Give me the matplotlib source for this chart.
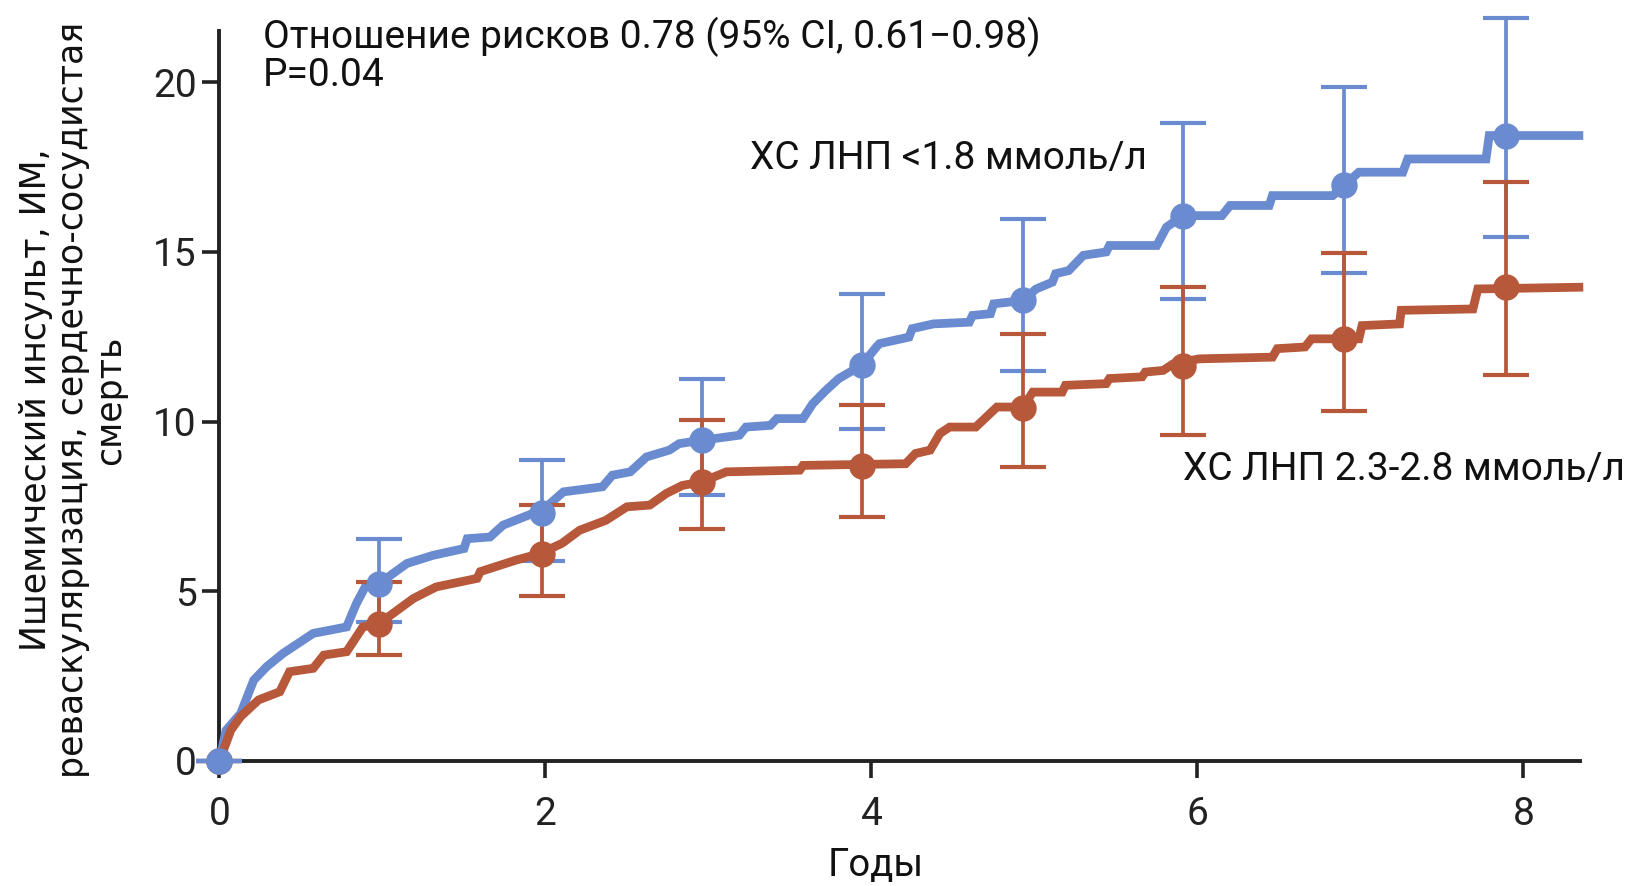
"""
Cumulative incidence of ischemic stroke / MI / revascularisation / CV death
by achieved LDL-C group, with yearly 95% CI markers.
"""

import matplotlib
matplotlib.use("Agg")
import matplotlib.pyplot as plt

# ── Data ─────────────────────────────────────────────────────────────────────
# step curves, years vs %
BLUE_T = [0, 0.04, 0.13, 0.21, 0.29, 0.39, 0.575, 0.78, 0.84, 0.9, 0.98, 1.15,
          1.31, 1.5, 1.52, 1.66, 1.74, 1.92, 1.985, 2.03, 2.11, 2.35, 2.41,
          2.52, 2.62, 2.76, 2.82, 2.956, 3.19, 3.23, 3.38, 3.42, 3.58, 3.64,
          3.72, 3.8, 3.94, 4.03, 4.05, 4.23, 4.25, 4.38, 4.6, 4.62, 4.73, 4.75,
          4.93, 5.01, 5.11, 5.13, 5.21, 5.3, 5.44, 5.46, 5.75, 5.81, 5.91,
          6.15, 6.2, 6.44, 6.46, 6.83, 6.9, 6.99, 7.26, 7.29, 7.77, 7.79,
          7.89, 8.34]
BLUE_Y = [0, 0.9, 1.4, 2.38, 2.78, 3.17, 3.76, 3.95, 4.64, 5.18, 5.23, 5.82,
          6.06, 6.26, 6.55, 6.6, 6.95, 7.29, 7.34, 7.59, 7.93, 8.08, 8.42,
          8.52, 8.96, 9.16, 9.35, 9.45, 9.6, 9.84, 9.89, 10.09, 10.09, 10.53,
          10.92, 11.27, 11.66, 12.2, 12.3, 12.49, 12.74, 12.88, 12.93, 13.13,
          13.18, 13.47, 13.57, 13.91, 14.11, 14.36, 14.45, 14.9, 15.0, 15.19,
          15.19, 15.73, 16.07, 16.07, 16.37, 16.37, 16.66, 16.66, 16.96,
          17.35, 17.35, 17.74, 17.74, 18.43, 18.43, 18.43]

RED_T = [0, 0.07, 0.13, 0.24, 0.37, 0.43, 0.575, 0.64, 0.78, 0.88, 0.98,
         1.19, 1.33, 1.58, 1.6, 1.82, 1.965, 2.1, 2.21, 2.37, 2.5, 2.64, 2.74,
         2.84, 2.956, 3.11, 3.56, 3.58, 4.21, 4.27, 4.36, 4.42, 4.48, 4.64,
         4.77, 4.93, 4.99, 5.17, 5.19, 5.44, 5.46, 5.66, 5.68, 5.79, 5.85,
         6.01, 6.46, 6.49, 6.66, 6.7, 6.99, 7.01, 7.24, 7.25, 7.69, 7.72, 8.34]
RED_Y = [0, 0.91, 1.31, 1.8, 2.04, 2.63, 2.73, 3.12, 3.22, 3.95, 4.05, 4.79,
         5.13, 5.38, 5.58, 5.92, 6.11, 6.41, 6.8, 7.09, 7.49, 7.54, 7.88,
         8.12, 8.22, 8.52, 8.57, 8.71, 8.76, 9.06, 9.16, 9.65, 9.84, 9.84,
         10.43, 10.43, 10.87, 10.87, 11.07, 11.12, 11.27, 11.32, 11.46, 11.51,
         11.7, 11.85, 11.9, 12.15, 12.2, 12.44, 12.44, 12.83, 12.88, 13.28,
         13.32, 13.91, 13.96]

# yearly estimates with 95% CI
YEAR_X   = [0, 0.98, 1.98, 2.96, 3.94, 4.93, 5.91, 6.9, 7.89]
BLUE_PT  = [0, 5.23, 7.3, 9.45, 11.66, 13.57, 16.07, 16.96, 18.43]
BLUE_LO  = [0, 4.1, 5.9, 7.85, 9.78, 11.5, 13.6, 14.37, 15.45]
BLUE_HI  = [0, 6.55, 8.86, 11.26, 13.75, 15.97, 18.8, 19.85, 21.88]
RED_PT   = [0, 4.05, 6.11, 8.22, 8.7, 10.4, 11.63, 12.44, 13.96]
RED_LO   = [0, 3.12, 4.86, 6.83, 7.2, 8.67, 9.62, 10.3, 11.36]
RED_HI   = [0, 5.28, 7.54, 10.06, 10.5, 12.57, 13.96, 14.97, 17.05]

X_TICKS = [0, 2, 4, 6, 8]
Y_TICKS = [0, 5, 10, 15, 20]

LABEL_BLUE = "ХС ЛНП <1.8 ммоль/л"
LABEL_RED  = "ХС ЛНП 2.3-2.8 ммоль/л"
HR_TEXT    = "Отношение рисков 0.78 (95% CI, 0.61\u22120.98)\nP=0.04"
Y_LABEL    = "Ишемический инсульт, ИМ,\nреваскуляризация, сердечно-сосудистая\nсмерть"
X_LABEL    = "Годы"

BLUE = "#6A8BCF"
RED  = "#B7583A"
INK  = "#222222"

plt.rcParams["font.family"] = ["Roboto", "DejaVu Sans"]


def yerr_of(pt, lo, hi):
    return [[p - l for p, l in zip(pt, lo)], [h - p for p, h in zip(pt, hi)]]


def draw_group(ax, t, y, px, pt, lo, hi, color, zorder=2):
    ax.plot(t, y, color=color, linewidth=6.3, solid_joinstyle="miter",
            clip_on=False, zorder=zorder)
    ax.errorbar(px, pt, yerr=yerr_of(pt, lo, hi), fmt="o", color=color,
                markersize=18, elinewidth=2.7, capsize=16.5, capthick=3.0,
                clip_on=False, zorder=zorder)


def main():
    fig = plt.figure(figsize=(16.39, 8.86), dpi=100)
    ax = fig.add_axes([0.1339, 0.1411, 0.8304, 0.8235])

    draw_group(ax, BLUE_T, BLUE_Y, YEAR_X, BLUE_PT, BLUE_LO, BLUE_HI, BLUE)
    draw_group(ax, RED_T, RED_Y, YEAR_X, RED_PT, RED_LO, RED_HI, RED)

    # the blue start point (with its flat cap) sits on top of the red one
    ax.errorbar(YEAR_X[:1], BLUE_PT[:1],
                yerr=yerr_of(BLUE_PT[:1], BLUE_LO[:1], BLUE_HI[:1]),
                fmt="o", color=BLUE, markersize=18, elinewidth=2.7,
                capsize=16.5, capthick=3.0, clip_on=False, zorder=5)

    ax.set_xlim(0, 8.35)
    ax.set_ylim(0, 21.5)
    ax.set_xticks(X_TICKS)
    ax.set_yticks(Y_TICKS)

    for side in ("top", "right"):
        ax.spines[side].set_visible(False)
    for side in ("left", "bottom"):
        ax.spines[side].set_linewidth(2.8)
        ax.spines[side].set_color(INK)
        ax.spines[side].set_zorder(0.5)

    ax.tick_params(axis="both", length=12, width=2.6, color=INK,
                   labelsize=28, labelcolor=INK)
    ax.tick_params(axis="x", pad=13)
    ax.tick_params(axis="y", pad=4.5)

    ax.text(3.256, 17.75, LABEL_BLUE, fontsize=28, color="#111111",
            ha="left", va="center")
    ax.text(5.913, 8.59, LABEL_RED, fontsize=28, color="#111111",
            ha="left", va="center")

    fig.text(263 / 1639, 1 - 17 / 886, HR_TEXT, fontsize=28, color="#111111",
             ha="left", va="top", linespacing=1.0)
    fig.text(876 / 1639, 1 - 866 / 886, X_LABEL, fontsize=27.5,
             color="#111111", ha="center", va="center")
    fig.text(73 / 1639, 1 - 400 / 886, Y_LABEL, fontsize=25,
             family="DejaVu Sans", color="#111111", rotation=90,
             ha="center", va="center", multialignment="center",
             linespacing=1.1)

    fig.savefig("out.png", dpi=100)
    plt.close(fig)


if __name__ == "__main__":
    main()
